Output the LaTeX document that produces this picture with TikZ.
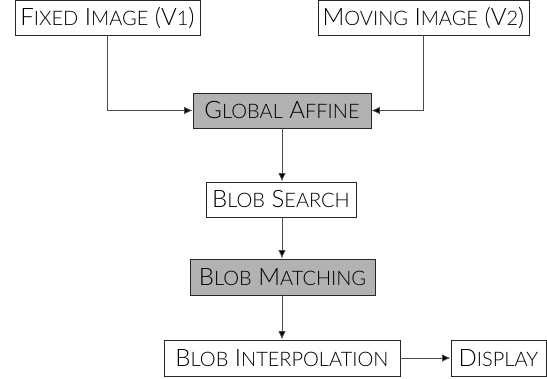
\documentclass[tikz,border=0pt]{standalone}
\usepackage{fontspec}
\setmainfont{Lato Light}
\usetikzlibrary{arrows.meta}
% hand-made small capitals: full-size initials, smaller capitals for the rest
\newcommand\smc[1]{{\fontsize{20}{21}\selectfont #1}}
\tikzset{
  box/.style={draw=black!85, line width=0.8pt, inner sep=0pt, minimum height=35pt,
    font=\fontsize{24}{25}\selectfont},
  shaded/.style={box, fill=black!30},
  link/.style={draw=black!70, line width=0.8pt, -{Latex[length=8.5pt,width=7.5pt,fill=black]}}
}
\begin{document}
\begin{tikzpicture}[x=1pt,y=-1pt]
  \useasboundingbox (0,0) rectangle (547,379);
  \node[box, minimum width=185pt] (fixed)  at (107.5,17.5) {F\smc{IXED} I\smc{MAGE} (V\smc{1})};
  \node[box, minimum width=211pt] (moving) at (423.5,17.5) {M\smc{OVING} I\smc{MAGE} (V\smc{2})};
  \node[shaded, minimum width=178pt] (affine) at (282,110.5) {G\smc{LOBAL} A\smc{FFINE}};
  \node[box, minimum width=150pt] (search) at (281,199.5) {B\smc{LOB} S\smc{EARCH}};
  \node[shaded, minimum width=185pt, minimum height=36pt] (match) at (282.5,277) {B\smc{LOB} M\smc{ATCHING}};
  \node[box, minimum width=236pt, minimum height=36pt] (interp) at (282,358) {B\smc{LOB} I\smc{NTERPOLATION}};
  \node[box, minimum width=95pt, minimum height=36pt] (display) at (498.5,358) {D\smc{ISPLAY}};

  \draw[link] (fixed.south) |- (affine.west);
  \draw[link] (moving.south) |- (affine.east);
  \draw[link] (affine.south) -- (search.north -| affine.south);
  \draw[link] (search.south -| affine.south) -- (match.north -| affine.south);
  \draw[link] (match.south -| affine.south) -- (interp.north -| affine.south);
  \draw[link] (interp.east) -- (display.west);
\end{tikzpicture}
\end{document}
